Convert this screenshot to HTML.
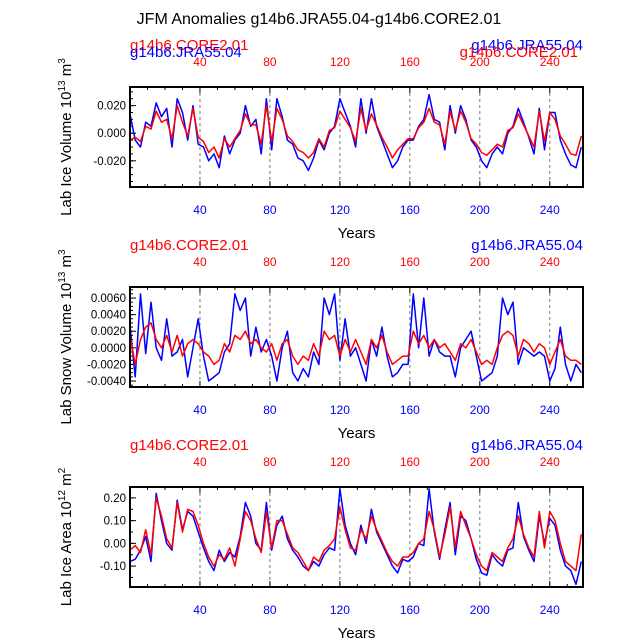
<!DOCTYPE html>
<html><head><meta charset="utf-8"><style>
body{margin:0;background:#fff}
svg text{font-family:"Liberation Sans",sans-serif}
</style></head><body>
<svg id="c" width="638" height="638" xmlns="http://www.w3.org/2000/svg">
<text x="319" y="24" font-size="16" text-anchor="middle">JFM Anomalies g14b6.JRA55.04-g14b6.CORE2.01</text>
</svg>
<script>
const years=[];for(let t=0;t<=258;t+=3)years.push(t);
const xTicks=[40,80,120,160,200,240];
// panel 1 (x1e-3)
const iceVolBlue=[14,-5,-10,8,5,22,12,18,-10,25,15,-5,20,-8,-10,-20,-15,-25,-2,-15,-5,0,20,5,10,-15,25,-12,25,12,-5,-8,-18,-20,-27,-18,-5,-12,0,5,25,15,5,-10,25,0,25,5,-5,-15,-25,-20,-10,-5,-5,5,10,28,10,8,-12,20,0,20,10,-5,-10,-20,-25,-15,-10,-15,0,5,18,8,-3,-15,18,-12,15,15,-5,-15,-23,-25,-10];
const iceVolRed=[-5,-3,-6,5,3,16,8,10,-4,20,8,-2,18,-3,-6,-14,-10,-18,-4,-10,-4,2,14,6,6,-8,20,-6,18,10,-2,-6,-12,-14,-18,-14,-4,-10,2,4,16,10,4,-6,18,2,14,6,-3,-10,-18,-12,-8,-4,-4,4,8,18,8,6,-8,16,2,16,8,-4,-8,-14,-16,-12,-8,-10,2,4,14,6,-2,-10,16,-6,15,10,-2,-8,-15,-16,-2];
const iceVolTicks=[-0.02,0,0.02];
// panel 2 (x1e-3)
const snowBlue=[2.7,-3.5,6.5,-0.7,5.5,0,-1.5,3.5,-1,-0.5,1,-3.5,0,3.5,-1,-4,-3.5,-3,-0.5,0.5,6.5,4.5,6,-1,2.5,-0.5,1,-1,-4,0,2,-3,-4,-2.5,-3.5,-0.5,-2,6,4,6.5,-1.5,3.5,-1,0,-2,-4,1,-1,2.5,-1,-3.5,-3,-2,-2,6.5,0,6,-1,1,-0.5,-1,-1,-3.5,0,1,2,-1,-4,-3.5,-3,-1,6,4,5.5,-2,0,-0.5,-1,-0.5,-1,-4,-2.5,2.5,-2,-4,-2,-3];
const snowRed=[1.5,-2,1,2.5,3,1,0,1.5,-0.5,1.5,-1,0.5,1,0.5,-0.5,-1,-2,-1.5,0.5,-0.5,1.5,1,2,0.5,1,0,-0.5,0.5,-1.5,0.5,1,-1,-2,-1,-1.5,0.5,-1,2,1,1.5,-1,1,-0.5,1,-0.5,-2,1,0,1.5,-0.5,-2,-1.5,-1,-1,2,0.5,1.5,0,1,0,0.5,-0.5,-1.5,0.5,0,1,-0.5,-2,-1.5,-2,0,1.5,2,1.5,-1,1,0.5,-0.5,0.5,0,-2,-0.5,1,-1,-1.5,-1.5,-2];
const snowTicks=[-0.004,-0.002,0,0.002,0.004,0.006];
// panel 3 (x1e-2)
const areaBlue=[-8,-7,-3,3,-8,22,10,0,-3,19,6,14,12,5,-2,-8,-12,-3,-8,-4,-6,3,18,12,0,-3,18,-3,8,12,2,-3,-6,-10,-12,-8,-10,-5,-2,-3,24,8,0,-5,8,0,15,5,0,-5,-10,-13,-7,-8,-6,0,-1,24,5,-7,6,18,-5,12,10,2,-7,-13,-14,-5,-8,-10,-3,-2,18,3,-3,-8,12,0,11,8,-3,-10,-12,-18,-8];
const areaRed=[-3,-1,-4,6,-5,20,12,2,-2,18,5,15,14,8,0,-6,-10,-5,-7,-2,-10,2,14,10,2,-4,14,-2,10,10,4,-2,-4,-8,-12,-6,-8,-3,-1,2,16,6,-2,-3,6,2,12,6,1,-4,-8,-10,-6,-6,-4,0,2,14,6,-6,4,16,-2,14,8,2,-5,-10,-12,-4,-6,-8,-2,2,12,4,-2,-6,14,-2,14,10,0,-8,-10,-12,4];
const areaTicks=[-0.1,0,0.1,0.2];
const NS='http://www.w3.org/2000/svg';
const svg=document.getElementById('c');
const X0=130,X1=583;
const xs=t=>X0+(t-0)*(X1-X0)/259;
function mk(tag,attrs,parent){const e=document.createElementNS(NS,tag);for(const k in attrs)e.setAttribute(k,attrs[k]);(parent||svg).appendChild(e);return e;}
function txt(x,y,s,size,fill,anchor,parent){const e=mk('text',{x:x,y:y,'font-size':size,fill:fill,'text-anchor':anchor},parent);e.textContent=s;return e;}
const panels=[
 {top:87,ymin:-0.039,ymax:0.0335,scale:1e-3,b:iceVolBlue,r:iceVolRed,ticks:iceVolTicks,minor:0.005,fmt:v=>v.toFixed(3),title:'Lab Ice Volume 10',sup:'13',unit:' m',usup:'3',name:'ice-volume',overlap:true},
 {top:287,ymin:-0.00472,ymax:0.00733,scale:1e-3,b:snowBlue,r:snowRed,ticks:snowTicks,minor:0.0005,fmt:v=>v.toFixed(4),title:'Lab Snow Volume 10',sup:'13',unit:' m',usup:'3',name:'snow-volume',overlap:false},
 {top:487,ymin:-0.192,ymax:0.248,scale:1e-2,b:areaBlue,r:areaRed,ticks:areaTicks,minor:0.05,fmt:v=>v.toFixed(2),title:'Lab Ice Area 10',sup:'12',unit:' m',usup:'2',name:'ice-area',overlap:false}
];
panels.forEach(p=>{
 const g=mk('g',{});
 
 
 const T=p.top,B=T+100;
 const ys=v=>B-(v-p.ymin)*100/(p.ymax-p.ymin);
 xTicks.forEach(t=>{const l=mk('line',{x1:xs(t),x2:xs(t),y1:T,y2:B,stroke:'#777','stroke-dasharray':'3,3','stroke-width':1},g);
  });
 for(let t=10;t<259;t+=10){const L=t%40===0?6:3;
  mk('line',{x1:xs(t),x2:xs(t),y1:B,y2:B-L,stroke:'#000'},g);mk('line',{x1:xs(t),x2:xs(t),y1:T,y2:T+L,stroke:'#000'},g);}
 for(let v=Math.ceil(p.ymin/p.minor)*p.minor;v<=p.ymax;v+=p.minor){mk('line',{x1:X0,x2:X0+3,y1:ys(v),y2:ys(v),stroke:'#000'},g);}
 p.ticks.forEach(v=>{mk('line',{x1:X0,x2:X0+6,y1:ys(v),y2:ys(v),stroke:'#000'},g);
  const e=txt(X0-4,ys(v)+4,p.fmt(v),11.5,'#000','end',g);});
 xTicks.forEach(t=>{const a=txt(xs(t),B+27,String(t),12,'#00f','middle',g);
  const b2=txt(xs(t),T-21,String(t),12,'#f00','middle',g);});
 [[p.b,'#00f','blue-line'],[p.r,'#f00','red-line']].forEach(([arr,col,nm])=>{
  const d=arr.map((v,i)=>(i?'L':'M')+xs(years[i]).toFixed(1)+','+ys(v*p.scale).toFixed(1)).join(' ');
  const pa=mk('path',{d:d,fill:'none',stroke:col,'stroke-width':1.5,'stroke-linejoin':'round'},g);
  });
 const fr=mk('rect',{x:X0,y:T,width:X1-X0,height:100,fill:'none',stroke:'#000','stroke-width':2},g);
 
 const yr=txt((X0+X1)/2,B+51,'Years',15,'#000','middle',g);
 const yt=mk('text',{x:0,y:0,'font-size':15,'text-anchor':'middle',transform:'translate(71,'+(T+50)+') rotate(-90)'},g);
 
 yt.innerHTML=p.title+'<tspan dy="-6" font-size="10">'+p.sup+'</tspan><tspan dy="6">'+p.unit+'</tspan><tspan dy="-6" font-size="10">'+p.usup+'</tspan>';
 const l1=txt(X0,T-37,'g14b6.CORE2.01',15,'#f00','start',g);
 const l2=txt(X1,T-37,'g14b6.JRA55.04',15,'#00f','end',g);
 if(p.overlap){const l3=txt(X0,T-30,'g14b6.JRA55.04',15,'#00f','start',g);
  const l4=txt(X1-5,T-30,'g14b6.CORE2.01',15,'#f00','end',g);}
});
</script>
</body></html>
